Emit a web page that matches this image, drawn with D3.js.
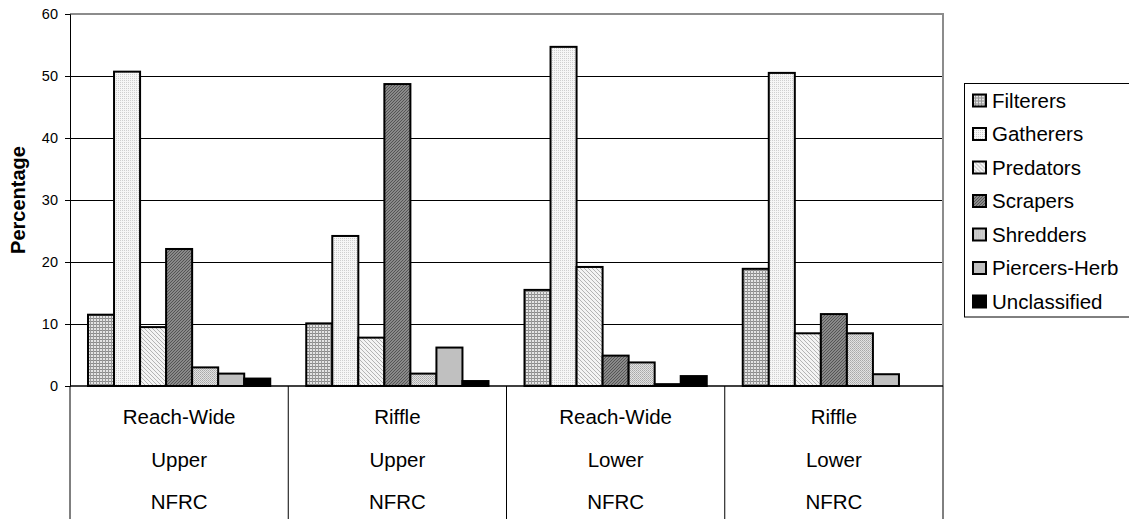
<!DOCTYPE html>
<html>
<head>
<meta charset="utf-8">
<script src="https://cdn.jsdelivr.net/npm/d3@7"></script>
<style>
  html, body { margin: 0; padding: 0; background: #fff; }
  svg { display: block; font-family: "Liberation Sans", Arial, sans-serif; }
</style>
</head>
<body>
<svg id="chart" width="1129" height="519"></svg>
<script>
// Functional feeding groups, percentage of individuals per site
const sites   = ["Reach-Wide", "Riffle", "Reach-Wide", "Riffle"];
const reaches = ["Upper", "Upper", "Lower", "Lower"];
const streams = ["NFRC", "NFRC", "NFRC", "NFRC"];
const groups  = ["Filterers", "Gatherers", "Predators", "Scrapers", "Shredders", "Piercers-Herb", "Unclassified"];

const filterers    = [11.5, 10.1, 15.5, 18.9];
const gatherers    = [50.7, 24.2, 54.7, 50.5];
const predators    = [9.5, 7.8, 19.2, 8.5];
const scrapers     = [22.1, 48.7, 4.9, 11.6];
const shredders    = [3.0, 2.0, 3.8, 8.5];
const piercersHerb = [2.0, 6.2, 0.3, 1.9];
const unclassified = [1.2, 0.8, 1.6, 0];

const yTicks = [0, 10, 20, 30, 40, 50, 60];

const seriesValues = [filterers, gatherers, predators, scrapers, shredders, piercersHerb, unclassified];

const svg = d3.select("#chart");
const plot = { left: 70, right: 943, top: 14, bottom: 386 };
const FONT = "Liberation Sans, Arial, sans-serif";

// Fill patterns for each feeding group
const defs = svg.append("defs");
function pat(id, w, h, draw) {
  const p = defs.append("pattern").attr("id", id).attr("patternUnits", "userSpaceOnUse")
    .attr("width", w).attr("height", h);
  draw(p);
}
pat("p0", 3, 3, p => {
  p.append("rect").attr("width", 3).attr("height", 3).attr("fill", "#e4e4e4");
  p.append("rect").attr("width", 3).attr("height", 1).attr("fill", "#8a8a8a");
  p.append("rect").attr("width", 1).attr("height", 3).attr("fill", "#9a9a9a");
});
pat("p1", 2, 2, p => {
  p.append("rect").attr("width", 2).attr("height", 2).attr("fill", "#f6f6f6");
  p.append("rect").attr("width", 1).attr("height", 1).attr("fill", "#cfcfcf");
});
pat("p2", 4, 4, p => {
  p.append("rect").attr("width", 4).attr("height", 4).attr("fill", "#f4f4f4");
  p.append("path").attr("d", "M0,0 L4,4 M-1,3 L1,5 M3,-1 L5,1").attr("stroke", "#b4b4b4").attr("stroke-width", 1);
});
pat("p3", 3, 3, p => {
  p.append("rect").attr("width", 3).attr("height", 3).attr("fill", "#8a8a8a");
  p.append("path").attr("d", "M0,3 L3,0 M-1,1 L1,-1 M2,4 L4,2").attr("stroke", "#555").attr("stroke-width", 1);
});
pat("p4", 2, 2, p => {
  p.append("rect").attr("width", 2).attr("height", 2).attr("fill", "#e2e2e2");
  p.append("rect").attr("width", 1).attr("height", 1).attr("fill", "#a8a8a8");
  p.append("rect").attr("x", 1).attr("y", 1).attr("width", 1).attr("height", 1).attr("fill", "#b8b8b8");
});
const fills = ["url(#p0)", "url(#p1)", "url(#p2)", "url(#p3)", "url(#p4)", "#c0c0c0", "#000000"];

// Scales
const x0 = d3.scaleBand().domain(d3.range(sites.length)).range([plot.left, plot.right]).padding(0);
const x1 = d3.scaleBand().domain(d3.range(groups.length))
  .range([18, x0.bandwidth() - 18]).padding(0);
const y = d3.scaleLinear().domain([0, 60]).range([plot.bottom, plot.top]);

// Gridlines
svg.append("g").selectAll("line").data(yTicks.filter(t => t > 0 && t < 60)).join("line")
  .attr("x1", plot.left).attr("x2", plot.right)
  .attr("y1", d => y(d)).attr("y2", d => y(d))
  .attr("stroke", "#000").attr("stroke-width", 1).attr("shape-rendering", "crispEdges");

// Plot frame (top and right in grey)
svg.append("line").attr("x1", plot.left).attr("x2", plot.right + 1).attr("y1", plot.top).attr("y2", plot.top)
  .attr("stroke", "#8c8c8c").attr("stroke-width", 2);
svg.append("line").attr("x1", plot.right).attr("x2", plot.right).attr("y1", plot.top).attr("y2", plot.bottom)
  .attr("stroke", "#8c8c8c").attr("stroke-width", 2);

// Bars
const barData = [];
seriesValues.forEach((vals, s) => vals.forEach((v, c) => { if (v > 0) barData.push({ s, c, v }); }));
svg.append("g").selectAll("rect").data(barData).join("rect")
  .attr("x", d => x0(d.c) + x1(d.s))
  .attr("width", x1.bandwidth())
  .attr("y", d => y(d.v))
  .attr("height", d => y(0) - y(d.v))
  .attr("fill", d => fills[d.s])
  .attr("stroke", "#000").attr("stroke-width", 2);

// Y axis
const yAxis = svg.append("g").attr("transform", `translate(${plot.left},0)`)
  .call(d3.axisLeft(y).tickValues(yTicks).tickSize(5).tickPadding(7));
yAxis.select(".domain").attr("stroke", "#000").attr("stroke-width", 1);
yAxis.selectAll(".tick line").attr("stroke", "#000");
yAxis.selectAll(".tick text").attr("font-size", 14.5).attr("fill", "#000")
  .attr("font-family", FONT);

svg.append("text")
  .attr("transform", `translate(25,${(plot.top + plot.bottom) / 2}) rotate(-90)`)
  .attr("text-anchor", "middle").attr("font-size", 20).attr("font-weight", "bold")
  .attr("font-family", FONT)
  .text("Percentage");

// Category axis as a multi-level table
svg.append("line").attr("x1", plot.left).attr("x2", plot.right).attr("y1", plot.bottom).attr("y2", plot.bottom)
  .attr("stroke", "#000").attr("stroke-width", 1.5);
const bounds = d3.range(sites.length + 1).map(i => i < sites.length ? x0(i) : plot.right);
svg.append("g").selectAll("line").data(bounds).join("line")
  .attr("x1", d => d).attr("x2", d => d).attr("y1", plot.bottom).attr("y2", 519)
  .attr("stroke", "#000").attr("stroke-width", 1);

const rows = [sites, reaches, streams];
const rowY = [424, 466.5, 509];
rows.forEach((labels, r) => {
  svg.append("g").selectAll("text").data(labels).join("text")
    .attr("x", (d, i) => x0(i) + x0.bandwidth() / 2)
    .attr("y", rowY[r])
    .attr("text-anchor", "middle").attr("font-size", 20.5).attr("fill", "#000")
    .attr("font-family", FONT)
    .text(d => d);
});

// Legend
const legend = svg.append("g");
legend.append("rect").attr("x", 964.5).attr("y", 83.5).attr("width", 170).attr("height", 233.5)
  .attr("fill", "#fff").attr("stroke", "#000").attr("stroke-width", 1);
const items = legend.selectAll("g.item").data(groups).join("g").attr("class", "item")
  .attr("transform", (d, i) => `translate(972,${100.5 + i * 33.5})`);
items.append("rect").attr("x", 1).attr("y", -6).attr("width", 13).attr("height", 12)
  .attr("fill", (d, i) => fills[i]).attr("stroke", "#000").attr("stroke-width", 2);
items.append("text").attr("x", 20).attr("y", 7).attr("font-size", 20.5).attr("fill", "#000")
  .attr("font-family", FONT).text(d => d);
</script>
</body>
</html>
